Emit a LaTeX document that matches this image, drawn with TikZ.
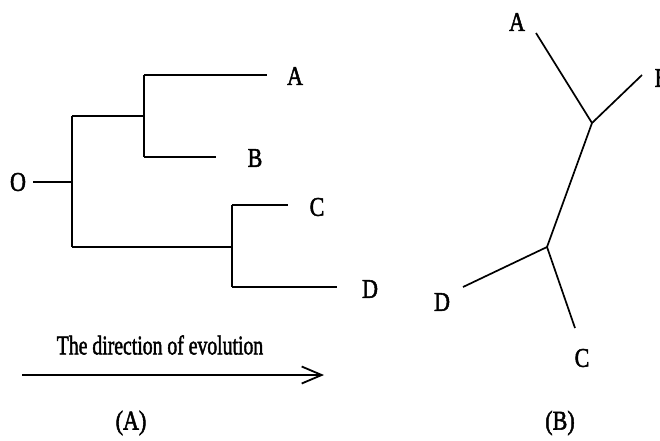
\documentclass[tikz,border=0pt]{standalone}
\usepackage{fontspec}
\setmainfont{Liberation Serif}[FakeBold=2]
\usepackage{graphicx}
\usetikzlibrary{arrows.meta}
\newcommand{\narrow}[1]{\scalebox{0.82}[1]{#1}}
\tikzset{
  branch/.style={line width=1.7pt, line cap=butt},
  leaf/.style={inner sep=0pt, font=\fontsize{27}{30}\selectfont},
  caption/.style={inner sep=0pt, font=\fontsize{27}{30}\selectfont},
}
\begin{document}
\begin{tikzpicture}[x=1pt,y=-1pt]
\useasboundingbox (0,0) rectangle (660,440);

% ---- (A) rooted tree ----
\coordinate (root) at (33,182);
\coordinate (n0) at (72,182);
\coordinate (n0u) at (72,116);
\coordinate (n0d) at (72,247);
\coordinate (n1) at (144,116);
\coordinate (n1u) at (144,75);
\coordinate (n1d) at (144,157);
\coordinate (n2) at (232,247);
\coordinate (n2u) at (232,205);
\coordinate (n2d) at (232,287);
\coordinate (tA) at (267,75);
\coordinate (tB) at (216,157);
\coordinate (tC) at (288,205);
\coordinate (tD) at (337,287);

\node[leaf] (lO) at (18,182) {\narrow{O}};
\node[leaf] (lA) at (295,76) {\narrow{A}};
\node[leaf] (lB) at (255,158) {\narrow{B}};
\node[leaf] (lC) at (317,207) {\narrow{C}};
\node[leaf] (lD) at (370,289) {\narrow{D}};

\draw[branch] (root) -- (n0);
\draw[branch] (n0u) -- (n0d);
\draw[branch] (n0u) -- (n1);
\draw[branch] (n0d) -- (n2);
\draw[branch] (n1u) -- (n1d);
\draw[branch] (n1u) -- (tA);
\draw[branch] (n1d) -- (tB);
\draw[branch] (n2u) -- (n2d);
\draw[branch] (n2u) -- (tC);
\draw[branch] (n2d) -- (tD);

% direction of evolution
\node[caption] (dirtext) at (160,345) {\scalebox{0.73}[1]{The direction of evolution}};
\coordinate (arrS) at (22,375);
\coordinate (arrE) at (324,375);
\draw[line width=1.7pt, -{Straight Barb[length=20pt,width=17pt,line width=1.8pt]}] (arrS) -- (arrE);

\node[caption] (capA) at (131,423) {\narrow{(A)}};

% ---- (B) unrooted tree ----
\coordinate (u1) at (592,123);
\coordinate (u2) at (547,247);
\coordinate (uA) at (536,33);
\coordinate (uB) at (642,75);
\coordinate (uC) at (575,328);
\coordinate (uD) at (463,287);

\node[leaf] (mA) at (517,22) {\narrow{A}};
\node[leaf] (mB) at (662,78) {\narrow{B}};
\node[leaf] (mC) at (582,358) {\narrow{C}};
\node[leaf] (mD) at (442,302) {\narrow{D}};

\draw[branch] (uA) -- (u1);
\draw[branch] (uB) -- (u1);
\draw[branch] (u1) -- (u2);
\draw[branch] (u2) -- (uD);
\draw[branch] (u2) -- (uC);

\node[caption] (capB) at (560,423) {\narrow{(B)}};
\end{tikzpicture}
\end{document}
